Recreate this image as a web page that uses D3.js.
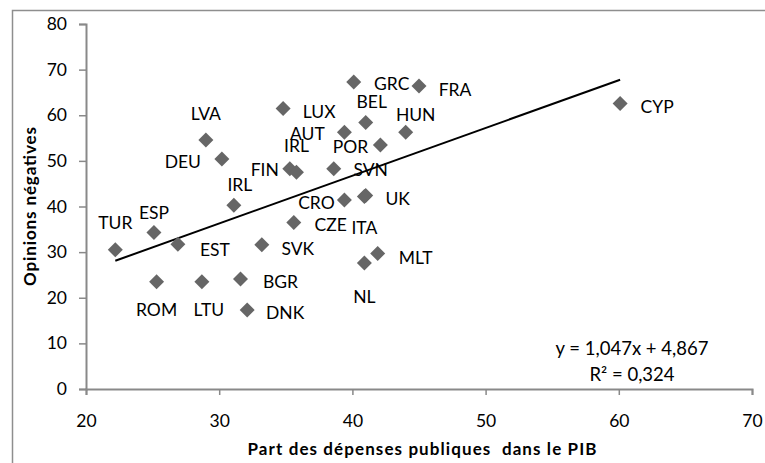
<!DOCTYPE html>
<html>
<head>
<meta charset="utf-8">
<script src="https://cdn.jsdelivr.net/npm/d3@7"></script>
<style>
  body { margin: 0; background: #fff; }
  text { font-family: Lato, "Open Sans", sans-serif; fill: #000; }
</style>
</head>
<body>
<div class="chart"></div>
<script>
// pays, part des dépenses publiques (x), opinions négatives (y)
const countries = ["TUR", "ESP", "EST", "SVK", "ROM", "LTU", "BGR", "DNK", "LVA", "DEU",
  "IRL", "LUX", "GRC", "FRA", "AUT", "BEL", "HUN", "POR", "FIN", "IRL",
  "SVN", "CRO", "UK", "ITA", "CZE", "MLT", "NL", "CYP"];
const spending = [22.2, 25.1, 26.9, 33.2, 25.3, 28.7, 31.6, 32.1, 29.0, 30.2,
  31.1, 34.8, 40.1, 45.0, 39.4, 41.0, 44.0, 42.1, 35.3, 35.8,
  38.6, 39.4, 41.0, 40.9, 35.6, 41.9, 40.9, 60.1];
const opinions = [30.5, 34.3, 31.7, 31.6, 23.5, 23.5, 24.1, 17.3, 54.6, 50.4,
  40.3, 61.5, 67.3, 66.4, 56.3, 58.4, 56.3, 53.5, 48.3, 47.5,
  48.3, 41.4, 42.4, 42.2, 36.5, 29.7, 27.6, 62.6];
const xTicks = [20, 30, 40, 50, 60, 70];
const yTicks = [0, 10, 20, 30, 40, 50, 60, 70, 80];
const trend = { slope: 1.047, intercept: 4.867, r2: 0.324 };

// position des étiquettes (décalage en px par rapport au point)
const labelOffset = [[0, -27], [0, -20], [37, 5], [36, 4], [0, 28], [7, 28], [40, 2], [38, 2], [0, -26], [-39, 2],
  [6, -21], [36, 3], [38, 2], [36, 3], [-37, 1], [6, -21], [10, -18], [-30, 2], [-25, 1], [0, -27],
  [37, 1], [-28, 2], [32, 3], [0, 31], [37, 2], [38, 4], [0, 33], [37, 3]];

const W = 765, H = 463;
const margin = { top: 24, right: 13, bottom: 74, left: 86 };

const svg = d3.select(".chart").append("svg")
  .attr("width", W).attr("height", H);

// cadre du graphique
svg.append("rect")
  .attr("x", 12.5).attr("y", 10.5)
  .attr("width", 780).attr("height", 480)
  .attr("fill", "none").attr("stroke", "#8e8e8e").attr("stroke-width", 1.5);

const x = d3.scaleLinear().domain([20, 70]).range([margin.left, W - margin.right]);
const y = d3.scaleLinear().domain([0, 80]).range([H - margin.bottom, margin.top]);

const axisColor = "#898989";

const gx = svg.append("g")
  .attr("transform", "translate(0," + y(0) + ")")
  .call(d3.axisBottom(x).tickValues(xTicks).tickSize(6).tickPadding(20).tickFormat(d3.format("d")));
const gy = svg.append("g")
  .attr("transform", "translate(" + x(20) + ",0)")
  .call(d3.axisLeft(y).tickValues(yTicks).tickSize(7).tickPadding(12).tickFormat(d3.format("d")));

[gx, gy].forEach((g) => {
  g.select(".domain").attr("stroke", axisColor).attr("stroke-width", 2);
  g.selectAll(".tick line").attr("stroke", axisColor).attr("stroke-width", 1.5);
  g.selectAll(".tick text").style("font-size", "17.5px").attr("fill", "#000")
    .style("font-family", "Lato, sans-serif");
});

// droite de tendance
const xMin = d3.min(spending), xMax = d3.max(spending);
svg.append("line")
  .attr("x1", x(xMin)).attr("y1", y(trend.slope * xMin + trend.intercept))
  .attr("x2", x(xMax)).attr("y2", y(trend.slope * xMax + trend.intercept))
  .attr("stroke", "#000").attr("stroke-width", 2);

const data = countries.map((c, i) => ({ name: c, x: spending[i], y: opinions[i], off: labelOffset[i] }));

svg.selectAll(".pt")
  .data(data)
  .enter()
  .append("rect")
  .attr("class", "pt")
  .attr("x", -5.3).attr("y", -5.3)
  .attr("width", 10.6).attr("height", 10.6)
  .attr("fill", "#666666")
  .attr("transform", (d) => "translate(" + x(d.x) + "," + y(d.y) + ") rotate(45)");

svg.selectAll(".lbl")
  .data(data)
  .enter()
  .append("text")
  .attr("class", "lbl")
  .attr("x", (d) => x(d.x) + d.off[0])
  .attr("y", (d) => y(d.y) + d.off[1])
  .attr("text-anchor", "middle")
  .attr("dominant-baseline", "central")
  .style("font-size", "17.5px")
  .text((d) => d.name);

// équation
const fmt = (v) => String(v).replace(".", ",");
svg.append("text")
  .attr("x", 632).attr("y", 348)
  .attr("text-anchor", "middle").attr("dominant-baseline", "central")
  .style("font-size", "18.5px")
  .text("y = " + fmt(trend.slope) + "x + " + fmt(trend.intercept));
svg.append("text")
  .attr("x", 632).attr("y", 374)
  .attr("text-anchor", "middle").attr("dominant-baseline", "central")
  .style("font-size", "18.5px")
  .text("R² = " + fmt(trend.r2));

// titres des axes
svg.append("text")
  .attr("x", 422).attr("y", 455)
  .attr("text-anchor", "middle")
  .attr("textLength", 349).attr("lengthAdjust", "spacing")
  .style("font-size", "17px").style("font-weight", "bold")
  .attr("xml:space", "preserve")
  .text("Part des dépenses publiques  dans le PIB");

svg.append("text")
  .attr("transform", "translate(36," + ((y(0) + y(80)) / 2) + ") rotate(-90)")
  .attr("text-anchor", "middle")
  .attr("textLength", 159).attr("lengthAdjust", "spacing")
  .style("font-size", "17px").style("font-weight", "bold")
  .text("Opinions négatives");
</script>
</body>
</html>
